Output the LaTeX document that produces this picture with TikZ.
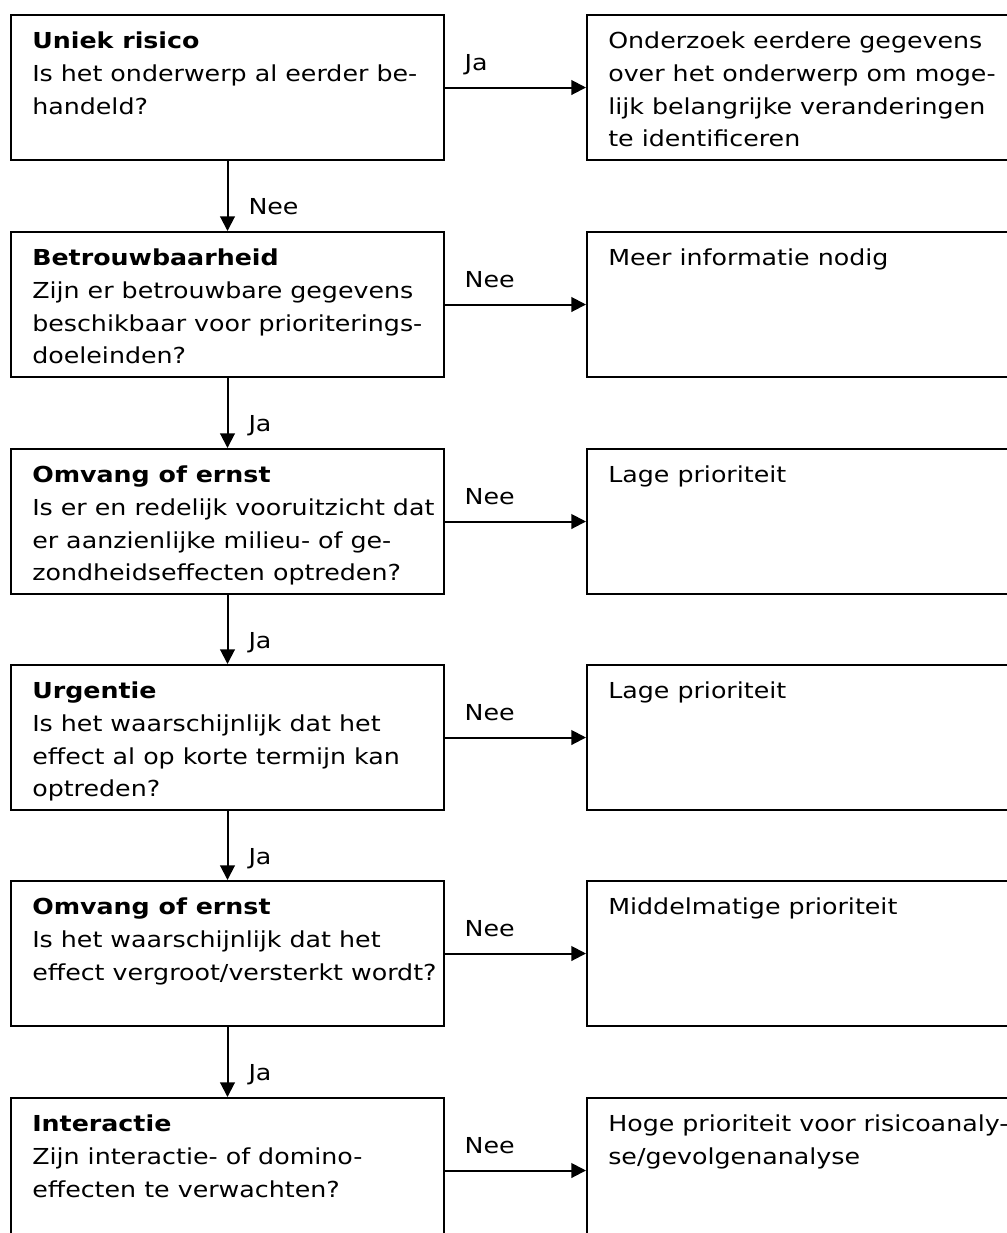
\documentclass[tikz,border=0pt]{standalone}
\usepackage{fontspec}
\setmainfont{DejaVu Sans}[FakeStretch=1.15]
\usetikzlibrary{arrows.meta}

\begin{document}
\begin{tikzpicture}[x=0.75pt,y=-0.75pt,
  qbox/.style={draw,line width=1.5pt,anchor=north west,inner sep=0,minimum width=324.75pt,minimum height=108.75pt},
  abox/.style={draw,line width=1.5pt,anchor=north west,inner sep=0,minimum width=324pt,minimum height=108.75pt},
  txt/.style={anchor=north west,inner sep=0,align=left,font=\fontsize{16.5pt}{24.4pt}\selectfont},
  lbl/.style={inner sep=0,font=\fontsize{16.5pt}{18pt}\selectfont},
  arr/.style={line width=1.5pt,-{Triangle[length=11pt,width=11pt]}}]
\useasboundingbox (0,0) rectangle (1007,1233);
\fill[white] (0,0) rectangle (1007,1233);

% question boxes (left) and outcomes (right)
\node[qbox] (q1) at (10,14) {};
\node[qbox] (q2) at (10,231) {};
\node[qbox] (q3) at (10,448) {};
\node[qbox] (q4) at (10,664) {};
\node[qbox] (q5) at (10,880) {};
\node[qbox] (q6) at (10,1097) {};
\node[abox] (a1) at (586,14) {};
\node[abox] (a2) at (586,231) {};
\node[abox] (a3) at (586,448) {};
\node[abox] (a4) at (586,664) {};
\node[abox] (a5) at (586,880) {};
\node[abox] (a6) at (586,1097) {};

% texts
\node[txt] (t1) at ([shift={(22,18)}]q1.north west) {\textbf{Uniek risico}\\Is het onderwerp al eerder be-\\handeld?};
\node[txt] (t2) at ([shift={(22,18)}]q2.north west) {\textbf{Betrouwbaarheid}\\Zijn er betrouwbare gegevens\\beschikbaar voor prioriterings-\\doeleinden?};
\node[txt] (t3) at ([shift={(22,18)}]q3.north west) {\textbf{Omvang of ernst}\\Is er en redelijk vooruitzicht dat\\er aanzienlijke milieu- of ge-\\zondheidseffecten optreden?};
\node[txt] (t4) at ([shift={(22,18)}]q4.north west) {\textbf{Urgentie}\\Is het waarschijnlijk dat het\\effect al op korte termijn kan\\optreden?};
\node[txt] (t5) at ([shift={(22,18)}]q5.north west) {\textbf{Omvang of ernst}\\Is het waarschijnlijk dat het\\effect vergroot/versterkt wordt?};
\node[txt] (t6) at ([shift={(22,18)}]q6.north west) {\textbf{Interactie}\\Zijn interactie- of domino-\\effecten te verwachten?};
\node[txt] (u1) at ([shift={(22,18)}]a1.north west) {Onderzoek eerdere gegevens\\over het onderwerp om moge-\\lijk belangrijke veranderingen\\te identificeren};
\node[txt] (u2) at ([shift={(22,18)}]a2.north west) {Meer informatie nodig};
\node[txt] (u3) at ([shift={(22,18)}]a3.north west) {Lage prioriteit};
\node[txt] (u4) at ([shift={(22,18)}]a4.north west) {Lage prioriteit};
\node[txt] (u5) at ([shift={(22,18)}]a5.north west) {Middelmatige prioriteit};
\node[txt] (u6) at ([shift={(22,18)}]a6.north west) {Hoge prioriteit voor risicoanaly-\\se/gevolgenanalyse};

% arrows
\draw[arr] (q1.east) -- node[lbl,pos=0,anchor=base west,xshift=14pt,yshift=13pt] {Ja} (a1.west);
\draw[arr] (q2.east) -- node[lbl,pos=0,anchor=base west,xshift=14pt,yshift=13pt] {Nee} (a2.west);
\draw[arr] (q3.east) -- node[lbl,pos=0,anchor=base west,xshift=14pt,yshift=13pt] {Nee} (a3.west);
\draw[arr] (q4.east) -- node[lbl,pos=0,anchor=base west,xshift=14pt,yshift=13pt] {Nee} (a4.west);
\draw[arr] (q5.east) -- node[lbl,pos=0,anchor=base west,xshift=14pt,yshift=13pt] {Nee} (a5.west);
\draw[arr] (q6.east) -- node[lbl,pos=0,anchor=base west,xshift=14pt,yshift=13pt] {Nee} (a6.west);
\draw[arr] (q1.south) -- node[lbl,pos=0.77,anchor=base west,xshift=15pt] {Nee} (q2.north);
\draw[arr] (q2.south) -- node[lbl,pos=0.77,anchor=base west,xshift=15pt] {Ja} (q3.north);
\draw[arr] (q3.south) -- node[lbl,pos=0.77,anchor=base west,xshift=15pt] {Ja} (q4.north);
\draw[arr] (q4.south) -- node[lbl,pos=0.77,anchor=base west,xshift=15pt] {Ja} (q5.north);
\draw[arr] (q5.south) -- node[lbl,pos=0.77,anchor=base west,xshift=15pt] {Ja} (q6.north);
\end{tikzpicture}
\end{document}
